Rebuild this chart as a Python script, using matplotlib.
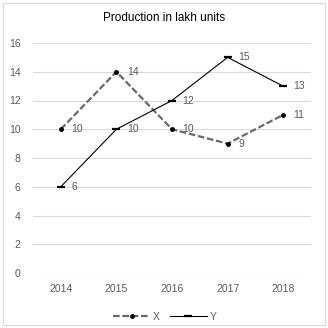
import matplotlib
matplotlib.use("Agg")
import matplotlib.pyplot as plt
from matplotlib.lines import Line2D
from matplotlib.patches import Rectangle

years = ["2014", "2015", "2016", "2017", "2018"]
x_vals = [10, 14, 10, 9, 11]
y_vals = [6, 10, 12, 15, 13]
y_ticks = [0, 2, 4, 6, 8, 10, 12, 14, 16]

plt.rcParams["font.family"] = ["Liberation Sans", "DejaVu Sans"]
text_col = "#595959"
dash_col = "#6a6a6a"

fig = plt.figure(figsize=(3.28, 3.28), dpi=100)
fig.add_artist(Rectangle((0.008, 0.008), 0.984, 0.984, transform=fig.transFigure,
                         fill=False, edgecolor="#d9d9d9", linewidth=0.8))
ax = fig.add_axes([33 / 328, 55 / 328, 278 / 328, 230 / 328])

pos = list(range(len(years)))
ax.plot(pos, x_vals, color=dash_col, linestyle=(0, (3, 1.2)), linewidth=1.6,
        marker="o", markersize=2.5, markerfacecolor="#000000", markeredgecolor="#000000", zorder=3)
ax.plot(pos, y_vals, color="#000000", linestyle="-", linewidth=0.8,
        marker="_", markersize=5.5, markeredgewidth=1.6, zorder=3)

for i, v in enumerate(x_vals):
    ax.annotate(str(v), (i, v), xytext=(7.5, 0), textcoords="offset points",
                va="center", ha="left", fontsize=7.5, color=text_col)
for i, v in enumerate(y_vals):
    ax.annotate(str(v), (i, v), xytext=(7.5, 0), textcoords="offset points",
                va="center", ha="left", fontsize=7.5, color=text_col)

ax.set_xlim(-0.5, 4.5)
ax.set_ylim(0, 16)
ax.set_yticks(y_ticks)
ax.set_xticks(pos)
ax.set_xticklabels(years)
ax.tick_params(axis="both", length=0, labelsize=7.5, labelcolor=text_col)
ax.tick_params(axis="y", pad=9)
ax.tick_params(axis="x", pad=8)
ax.grid(axis="y", color="#d9d9d9", linewidth=0.8)
ax.set_axisbelow(True)
for s in ax.spines.values():
    s.set_visible(False)

fig.text(164 / 328, 1 - 18 / 328, "Production in lakh units", ha="center", va="center",
         fontsize=8.5, color="#000000")

handles = [
    Line2D([], [], color=dash_col, linestyle=(0, (3, 1.2)), linewidth=1.6,
           marker="o", markersize=2.5, markerfacecolor="#000000", markeredgecolor="#000000"),
    Line2D([], [], color="#000000", linewidth=0.8, marker="_", markersize=5.5, markeredgewidth=1.6),
]
fig.legend(handles, ["X", "Y"], loc="center", bbox_to_anchor=(165 / 328, 1 - 317 / 328),
           ncol=2, frameon=False, fontsize=7.5, handlelength=3.5, handletextpad=0.3,
           columnspacing=1.0, labelcolor=text_col)

fig.savefig("out.png", dpi=100)
